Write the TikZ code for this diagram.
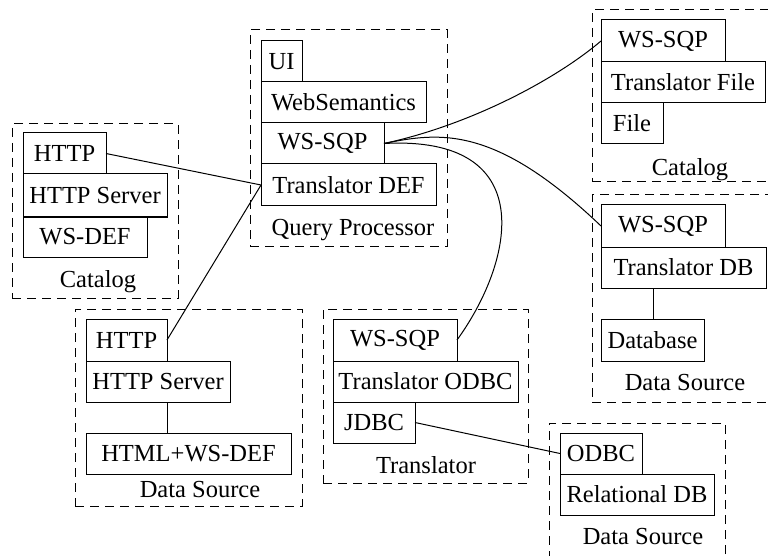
\documentclass[tikz,border=0pt]{standalone}
\usepackage{fontspec}
\setmainfont{Liberation Serif}
\begin{document}
\begin{tikzpicture}[x=1pt,y=-1pt,
  box/.style={draw, line width=1pt, inner sep=0pt, outer sep=0pt, anchor=north west, font=\fontsize{24.5}{28}\selectfont},
  dashbox/.style={draw, line width=1pt, dash pattern=on 9pt off 6pt, inner sep=0pt, outer sep=0pt, anchor=north west},
  lbl/.style={inner sep=0pt, font=\fontsize{24.5}{28}\selectfont},
  conn/.style={line width=1pt}]
\useasboundingbox (0,0) rectangle (768,556);
\clip (0,0) rectangle (768,556);
% containers
\node[dashbox, minimum width=197pt, minimum height=216pt] (qp) at (250,30) {};
\node[dashbox, minimum width=166pt, minimum height=174pt] (cl) at (12,124) {};
\node[dashbox, minimum width=220pt, minimum height=172pt] (cr) at (592,10) {};
\node[dashbox, minimum width=220pt, minimum height=207pt] (dr) at (592,195) {};
\node[dashbox, minimum width=227pt, minimum height=197pt] (dl) at (75,309) {};
\node[dashbox, minimum width=205pt, minimum height=174pt] (tr) at (323,309) {};
\node[dashbox, minimum width=176pt, minimum height=180pt] (db) at (549,423) {};
% Query Processor
\node[box, minimum width=41pt, minimum height=41pt] (qUI) at (261,41) {UI};
\node[box, minimum width=165pt, minimum height=41pt] (qWeb) at (261,82) {WebSemantics};
\node[box, minimum width=123pt, minimum height=41pt] (qWS) at (261,123) {WS-SQP};
\node[box, minimum width=175pt, minimum height=42pt] (qTD) at (261,164) {Translator DEF};
\node[lbl] (qL) at (353,230) {Query Processor};
% Catalog left
\node[box, minimum width=83pt, minimum height=41pt] (cHTTP) at (23,133) {HTTP};
\node[box, minimum width=144pt, minimum height=43pt] (cHS) at (23,174) {HTTP Server};
\node[box, minimum width=124pt, minimum height=40pt] (cWD) at (23,217) {WS-DEF};
\node[lbl] (clL) at (98,282) {Catalog};
% Catalog right
\node[box, minimum width=124pt, minimum height=42pt] (kWS) at (601,20) {WS-SQP};
\node[box, minimum width=164pt, minimum height=41pt] (kTF) at (601,62) {Translator File};
\node[box, minimum width=62pt, minimum height=41pt] (kF) at (601,103) {File};
\node[lbl] (crL) at (690,170) {Catalog};
% Data Source right
\node[box, minimum width=124pt, minimum height=42pt] (dWS) at (601,205) {WS-SQP};
\node[box, minimum width=165pt, minimum height=41pt] (dTDB) at (601,247) {Translator DB};
\node[box, minimum width=103pt, minimum height=42pt] (dDB) at (601,319) {Database};
\node[lbl] (drL) at (685,383) {Data Source};
% Data Source left
\node[box, minimum width=81pt, minimum height=42pt] (sHTTP) at (86,319) {HTTP};
\node[box, minimum width=144pt, minimum height=41pt] (sHS) at (86,361) {HTTP Server};
\node[box, minimum width=205pt, minimum height=41pt] (sHW) at (86,433) {HTML+WS-DEF};
\node[lbl] (dlL) at (200,490) {Data Source};
% Translator
\node[box, minimum width=124pt, minimum height=42pt] (tWS) at (333,319) {WS-SQP};
\node[box, minimum width=185pt, minimum height=41pt] (tTO) at (333,361) {Translator ODBC};
\node[box, minimum width=82pt, minimum height=41pt] (tJ) at (333,402) {JDBC};
\node[lbl] (trL) at (426,465) {Translator};
% Data Source bottom
\node[box, minimum width=82pt, minimum height=41pt] (bO) at (560,433) {ODBC};
\node[box, minimum width=154pt, minimum height=41pt] (bR) at (560,474) {Relational DB};
\node[lbl] (dbL) at (643,537) {Data Source};
% connectors
\draw[conn] ([xshift=52pt]dTDB.south west) -- ([xshift=52pt]dDB.north west);
\draw[conn] ([xshift=81pt]sHS.south west) -- ([xshift=81pt]sHW.north west);
\draw[conn] (cHTTP.east) -- (qTD.west);
\draw[conn] (sHTTP.east) -- (qTD.west);
\draw[conn] (qWS.east) .. controls (470,125) and (555,80) .. (kWS.west);
\draw[conn] (qWS.east) .. controls (440,132) and (495,125) .. (dWS.west);
\draw[conn] (qWS.east) .. controls (540,135) and (515,260) .. (tWS.east);
\draw[conn] (tJ.east) -- (bO.west);
\end{tikzpicture}
\end{document}
